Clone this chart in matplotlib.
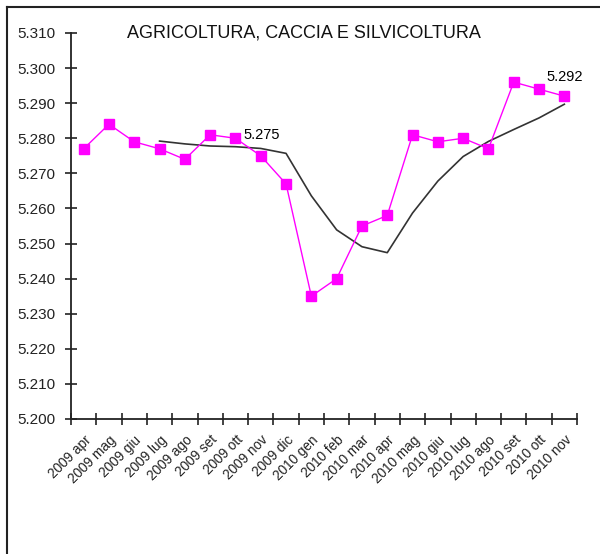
import matplotlib
matplotlib.use("Agg")
import matplotlib.pyplot as plt
from matplotlib.lines import Line2D
import numpy as np

plt.rcParams['font.family'] = ['Liberation Sans', 'DejaVu Sans']

categories = ["2009 apr", "2009 mag", "2009 giu", "2009 lug", "2009 ago", "2009 set",
              "2009 ott", "2009 nov", "2009 dic", "2010 gen", "2010 feb", "2010 mar",
              "2010 apr", "2010 mag", "2010 giu", "2010 lug", "2010 ago", "2010 set",
              "2010 ott", "2010 nov"]
values = [5.277, 5.284, 5.279, 5.277, 5.274, 5.281, 5.280, 5.275, 5.267, 5.235,
          5.240, 5.255, 5.258, 5.281, 5.279, 5.280, 5.277, 5.296, 5.294, 5.292]
trend = [None, None, None, 5.2792, 5.2784, 5.2778, 5.2776, 5.2771, 5.2757, 5.2636,
         5.2539, 5.2491, 5.2474, 5.2587, 5.2678, 5.2748, 5.2791, 5.2825, 5.2858, 5.2897]
yticks = [5.200, 5.210, 5.220, 5.230, 5.240, 5.250, 5.260, 5.270, 5.280, 5.290, 5.300, 5.310]
title = "AGRICOLTURA, CACCIA E SILVICOLTURA"
labels = {6: "5.275", 19: "5.292"}

fig = plt.figure(figsize=(6.0, 5.54), dpi=100)
ax = fig.add_axes([71/600, 1-419/554, (577-71)/600, (419-33)/554])

x = np.arange(len(categories))
tx = [i for i, v in enumerate(trend) if v is not None]
ty = [v for v in trend if v is not None]
ax.plot(tx, ty, color='#333333', lw=1.2, zorder=2)
ax.plot(x, values, color='#FF00FF', lw=1.0, marker='s', markersize=7,
        markeredgecolor='#FF00FF', zorder=3)

ax.set_xlim(-0.5, len(categories) - 0.5)
ax.set_ylim(5.200, 5.310)
ax.set_yticks(yticks)
ax.set_yticklabels([f"{v:.3f}" for v in yticks], fontsize=11, color='#222222')

ax.set_xticks(np.arange(-0.5, len(categories)), minor=False)
ax.set_xticklabels([])
ax.set_xticks(x, minor=True)
ax.set_xticklabels(categories, minor=True, rotation=45, ha='right',
                   rotation_mode='anchor', fontsize=9.8, color='#222222')
ax.tick_params(axis='x', which='minor', length=0, pad=10)
ax.tick_params(axis='both', which='major', direction='inout', length=8, width=1.2,
               color='#222222')
ax.tick_params(axis='y', pad=7)

for s in ['top', 'right']:
    ax.spines[s].set_visible(False)
for s in ['left', 'bottom']:
    ax.spines[s].set_linewidth(1.3)
    ax.spines[s].set_color('#222222')

ax.text(0.461, 1.0, title, transform=ax.transAxes, ha='center', va='center',
        fontsize=13, color='#111111')

ax.annotate(labels[6], xy=(6, values[6]), xytext=(5.5, 2), textcoords='offset points',
            ha='left', va='center', fontsize=10.5)
ax.annotate(labels[19], xy=(19, values[19]), xytext=(0, 14), textcoords='offset points',
            ha='center', va='center', fontsize=10.5)

# outer frame lines (left and top)
fig.add_artist(Line2D([7/600, 7/600], [0, 1-7/554], transform=fig.transFigure,
                      color='#222222', lw=1.5))
fig.add_artist(Line2D([7/600, 1], [1-7/554, 1-7/554], transform=fig.transFigure,
                      color='#222222', lw=1.5))

fig.savefig("out.png", dpi=100)
